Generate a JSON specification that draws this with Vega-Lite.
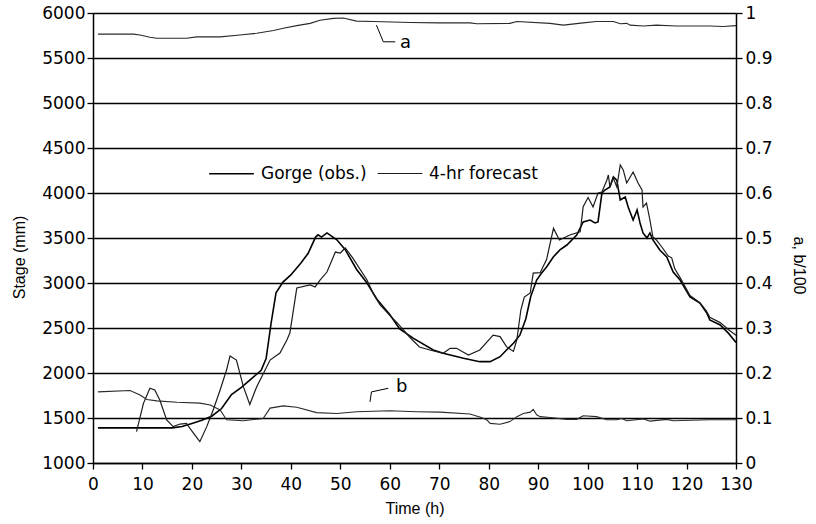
{
  "$schema": "https://vega.github.io/schema/vega-lite/v6.json",
  "width": 643,
  "height": 450,
  "autosize": {"type": "none"},
  "padding": {"left": 93, "top": 13, "right": 80, "bottom": 61},
  "background": "white",
  "config": {
    "view": {"stroke": null},
    "axis": {
      "domainColor": "black", "domainWidth": 1.5,
      "tickColor": "black", "tickWidth": 1.3, "tickSize": 6,
      "labelColor": "black", "labelFont": "DejaVu Sans", "labelFontSize": 17,
      "titleColor": "black", "titleFont": "Liberation Sans", "titleFontSize": 16, "titleFontWeight": "normal",
      "gridColor": "black", "gridWidth": 1.5, "gridOpacity": 1
    }
  },
  "datasets": {
    "stage": [
      {"series": "Gorge (obs.)", "t": 1, "v": 1390}, {"series": "Gorge (obs.)", "t": 4, "v": 1390}, {"series": "Gorge (obs.)", "t": 8, "v": 1390}, {"series": "Gorge (obs.)", "t": 12, "v": 1390}, {"series": "Gorge (obs.)", "t": 16, "v": 1390}, {"series": "Gorge (obs.)", "t": 18, "v": 1405}, {"series": "Gorge (obs.)", "t": 20, "v": 1440}, {"series": "Gorge (obs.)", "t": 22, "v": 1475}, {"series": "Gorge (obs.)", "t": 24, "v": 1520}, {"series": "Gorge (obs.)", "t": 26, "v": 1605}, {"series": "Gorge (obs.)", "t": 28, "v": 1760}, {"series": "Gorge (obs.)", "t": 30, "v": 1840}, {"series": "Gorge (obs.)", "t": 32, "v": 1935}, {"series": "Gorge (obs.)", "t": 34, "v": 2030}, {"series": "Gorge (obs.)", "t": 35, "v": 2160}, {"series": "Gorge (obs.)", "t": 36, "v": 2550}, {"series": "Gorge (obs.)", "t": 37, "v": 2890}, {"series": "Gorge (obs.)", "t": 38.4, "v": 3010}, {"series": "Gorge (obs.)", "t": 40, "v": 3090}, {"series": "Gorge (obs.)", "t": 42, "v": 3220}, {"series": "Gorge (obs.)", "t": 43.5, "v": 3330}, {"series": "Gorge (obs.)", "t": 45, "v": 3510}, {"series": "Gorge (obs.)", "t": 45.5, "v": 3535}, {"series": "Gorge (obs.)", "t": 46.2, "v": 3510}, {"series": "Gorge (obs.)", "t": 47.3, "v": 3556}, {"series": "Gorge (obs.)", "t": 49.3, "v": 3480}, {"series": "Gorge (obs.)", "t": 51, "v": 3370}, {"series": "Gorge (obs.)", "t": 53.3, "v": 3150}, {"series": "Gorge (obs.)", "t": 55.4, "v": 3000}, {"series": "Gorge (obs.)", "t": 57.4, "v": 2820}, {"series": "Gorge (obs.)", "t": 60, "v": 2650}, {"series": "Gorge (obs.)", "t": 62, "v": 2490}, {"series": "Gorge (obs.)", "t": 64.8, "v": 2385}, {"series": "Gorge (obs.)", "t": 68.8, "v": 2256}, {"series": "Gorge (obs.)", "t": 70.8, "v": 2219}, {"series": "Gorge (obs.)", "t": 74.9, "v": 2163}, {"series": "Gorge (obs.)", "t": 78.2, "v": 2126}, {"series": "Gorge (obs.)", "t": 80.3, "v": 2126}, {"series": "Gorge (obs.)", "t": 82.3, "v": 2181}, {"series": "Gorge (obs.)", "t": 83.6, "v": 2256}, {"series": "Gorge (obs.)", "t": 85, "v": 2330}, {"series": "Gorge (obs.)", "t": 86.3, "v": 2420}, {"series": "Gorge (obs.)", "t": 87.5, "v": 2600}, {"series": "Gorge (obs.)", "t": 88.5, "v": 2850}, {"series": "Gorge (obs.)", "t": 89.7, "v": 3033}, {"series": "Gorge (obs.)", "t": 90.7, "v": 3111}, {"series": "Gorge (obs.)", "t": 91.7, "v": 3178}, {"series": "Gorge (obs.)", "t": 93.1, "v": 3292}, {"series": "Gorge (obs.)", "t": 94.4, "v": 3367}, {"series": "Gorge (obs.)", "t": 95.8, "v": 3422}, {"series": "Gorge (obs.)", "t": 97.8, "v": 3533}, {"series": "Gorge (obs.)", "t": 99.1, "v": 3678}, {"series": "Gorge (obs.)", "t": 100.5, "v": 3700}, {"series": "Gorge (obs.)", "t": 101.5, "v": 3667}, {"series": "Gorge (obs.)", "t": 102.1, "v": 3678}, {"series": "Gorge (obs.)", "t": 102.9, "v": 4000}, {"series": "Gorge (obs.)", "t": 103.5, "v": 4033}, {"series": "Gorge (obs.)", "t": 104.5, "v": 4067}, {"series": "Gorge (obs.)", "t": 105.2, "v": 4178}, {"series": "Gorge (obs.)", "t": 105.9, "v": 4144}, {"series": "Gorge (obs.)", "t": 106.6, "v": 3922}, {"series": "Gorge (obs.)", "t": 107.6, "v": 3956}, {"series": "Gorge (obs.)", "t": 108.2, "v": 3844}, {"series": "Gorge (obs.)", "t": 109.2, "v": 3700}, {"series": "Gorge (obs.)", "t": 110, "v": 3811}, {"series": "Gorge (obs.)", "t": 110.6, "v": 3667}, {"series": "Gorge (obs.)", "t": 111.2, "v": 3556}, {"series": "Gorge (obs.)", "t": 112, "v": 3500}, {"series": "Gorge (obs.)", "t": 112.6, "v": 3556}, {"series": "Gorge (obs.)", "t": 113.2, "v": 3478}, {"series": "Gorge (obs.)", "t": 114.6, "v": 3367}, {"series": "Gorge (obs.)", "t": 116, "v": 3289}, {"series": "Gorge (obs.)", "t": 117.3, "v": 3122}, {"series": "Gorge (obs.)", "t": 118.7, "v": 3033}, {"series": "Gorge (obs.)", "t": 120.7, "v": 2844}, {"series": "Gorge (obs.)", "t": 122.7, "v": 2778}, {"series": "Gorge (obs.)", "t": 124.1, "v": 2667}, {"series": "Gorge (obs.)", "t": 124.7, "v": 2589}, {"series": "Gorge (obs.)", "t": 126.8, "v": 2533}, {"series": "Gorge (obs.)", "t": 128.5, "v": 2440}, {"series": "Gorge (obs.)", "t": 130, "v": 2340},
      {"series": "4-hr forecast", "t": 8.8, "v": 1348}, {"series": "4-hr forecast", "t": 10.2, "v": 1663}, {"series": "4-hr forecast", "t": 11.5, "v": 1830}, {"series": "4-hr forecast", "t": 12.5, "v": 1811}, {"series": "4-hr forecast", "t": 13.5, "v": 1700}, {"series": "4-hr forecast", "t": 14.9, "v": 1478}, {"series": "4-hr forecast", "t": 16.2, "v": 1404}, {"series": "4-hr forecast", "t": 17.6, "v": 1433}, {"series": "4-hr forecast", "t": 18.9, "v": 1441}, {"series": "4-hr forecast", "t": 19.6, "v": 1385}, {"series": "4-hr forecast", "t": 21.6, "v": 1237}, {"series": "4-hr forecast", "t": 23, "v": 1404}, {"series": "4-hr forecast", "t": 24.3, "v": 1589}, {"series": "4-hr forecast", "t": 25.7, "v": 1811}, {"series": "4-hr forecast", "t": 27, "v": 2033}, {"series": "4-hr forecast", "t": 27.7, "v": 2189}, {"series": "4-hr forecast", "t": 29, "v": 2144}, {"series": "4-hr forecast", "t": 30.4, "v": 1848}, {"series": "4-hr forecast", "t": 31.7, "v": 1650}, {"series": "4-hr forecast", "t": 33.1, "v": 1848}, {"series": "4-hr forecast", "t": 34.4, "v": 1990}, {"series": "4-hr forecast", "t": 35.8, "v": 2144}, {"series": "4-hr forecast", "t": 37.8, "v": 2222}, {"series": "4-hr forecast", "t": 39.2, "v": 2367}, {"series": "4-hr forecast", "t": 39.8, "v": 2444}, {"series": "4-hr forecast", "t": 41.2, "v": 2944}, {"series": "4-hr forecast", "t": 43.9, "v": 2978}, {"series": "4-hr forecast", "t": 44.9, "v": 2956}, {"series": "4-hr forecast", "t": 45.9, "v": 3033}, {"series": "4-hr forecast", "t": 47.3, "v": 3122}, {"series": "4-hr forecast", "t": 49, "v": 3344}, {"series": "4-hr forecast", "t": 50, "v": 3333}, {"series": "4-hr forecast", "t": 51, "v": 3389}, {"series": "4-hr forecast", "t": 52.5, "v": 3280}, {"series": "4-hr forecast", "t": 55.4, "v": 3033}, {"series": "4-hr forecast", "t": 56.6, "v": 2889}, {"series": "4-hr forecast", "t": 58, "v": 2760}, {"series": "4-hr forecast", "t": 60, "v": 2640}, {"series": "4-hr forecast", "t": 61.5, "v": 2556}, {"series": "4-hr forecast", "t": 64, "v": 2400}, {"series": "4-hr forecast", "t": 66, "v": 2289}, {"series": "4-hr forecast", "t": 68.1, "v": 2256}, {"series": "4-hr forecast", "t": 70.8, "v": 2219}, {"series": "4-hr forecast", "t": 72.2, "v": 2274}, {"series": "4-hr forecast", "t": 73.5, "v": 2274}, {"series": "4-hr forecast", "t": 75.9, "v": 2200}, {"series": "4-hr forecast", "t": 78.2, "v": 2256}, {"series": "4-hr forecast", "t": 80.9, "v": 2420}, {"series": "4-hr forecast", "t": 82.3, "v": 2404}, {"series": "4-hr forecast", "t": 83.6, "v": 2293}, {"series": "4-hr forecast", "t": 85, "v": 2240}, {"series": "4-hr forecast", "t": 85.7, "v": 2370}, {"series": "4-hr forecast", "t": 86.5, "v": 2700}, {"series": "4-hr forecast", "t": 87.2, "v": 2844}, {"series": "4-hr forecast", "t": 88.4, "v": 2890}, {"series": "4-hr forecast", "t": 89, "v": 3110}, {"series": "4-hr forecast", "t": 90.4, "v": 3115}, {"series": "4-hr forecast", "t": 91.7, "v": 3260}, {"series": "4-hr forecast", "t": 93.1, "v": 3607}, {"series": "4-hr forecast", "t": 94.3, "v": 3478}, {"series": "4-hr forecast", "t": 96.4, "v": 3533}, {"series": "4-hr forecast", "t": 98.5, "v": 3570}, {"series": "4-hr forecast", "t": 99.1, "v": 3848}, {"series": "4-hr forecast", "t": 100.1, "v": 3950}, {"series": "4-hr forecast", "t": 101.1, "v": 3844}, {"series": "4-hr forecast", "t": 102.1, "v": 4000}, {"series": "4-hr forecast", "t": 102.9, "v": 4011}, {"series": "4-hr forecast", "t": 103.9, "v": 4144}, {"series": "4-hr forecast", "t": 104.2, "v": 4200}, {"series": "4-hr forecast", "t": 104.5, "v": 4067}, {"series": "4-hr forecast", "t": 105.2, "v": 4167}, {"series": "4-hr forecast", "t": 105.9, "v": 4067}, {"series": "4-hr forecast", "t": 106.6, "v": 4311}, {"series": "4-hr forecast", "t": 107.2, "v": 4256}, {"series": "4-hr forecast", "t": 107.9, "v": 4111}, {"series": "4-hr forecast", "t": 109.2, "v": 4233}, {"series": "4-hr forecast", "t": 110.2, "v": 4111}, {"series": "4-hr forecast", "t": 111, "v": 4033}, {"series": "4-hr forecast", "t": 111.2, "v": 3844}, {"series": "4-hr forecast", "t": 111.9, "v": 3889}, {"series": "4-hr forecast", "t": 112.6, "v": 3700}, {"series": "4-hr forecast", "t": 113.2, "v": 3511}, {"series": "4-hr forecast", "t": 113.9, "v": 3478}, {"series": "4-hr forecast", "t": 115, "v": 3400}, {"series": "4-hr forecast", "t": 116.3, "v": 3300}, {"series": "4-hr forecast", "t": 117, "v": 3280}, {"series": "4-hr forecast", "t": 117.6, "v": 3160}, {"series": "4-hr forecast", "t": 118.7, "v": 3060}, {"series": "4-hr forecast", "t": 120.7, "v": 2860}, {"series": "4-hr forecast", "t": 122.7, "v": 2780}, {"series": "4-hr forecast", "t": 124, "v": 2690}, {"series": "4-hr forecast", "t": 124.7, "v": 2620}, {"series": "4-hr forecast", "t": 126.8, "v": 2560}, {"series": "4-hr forecast", "t": 128.5, "v": 2480}, {"series": "4-hr forecast", "t": 130, "v": 2420}
    ],
    "params": [
      {"p": "a", "t": 1, "v": 0.953}, {"p": "a", "t": 8.2, "v": 0.953}, {"p": "a", "t": 9.5, "v": 0.951}, {"p": "a", "t": 11.5, "v": 0.946}, {"p": "a", "t": 12.9, "v": 0.944}, {"p": "a", "t": 18.9, "v": 0.944}, {"p": "a", "t": 21, "v": 0.947}, {"p": "a", "t": 25.7, "v": 0.947}, {"p": "a", "t": 29.7, "v": 0.951}, {"p": "a", "t": 33.1, "v": 0.955}, {"p": "a", "t": 36.5, "v": 0.961}, {"p": "a", "t": 38.5, "v": 0.966}, {"p": "a", "t": 41.2, "v": 0.972}, {"p": "a", "t": 43.9, "v": 0.977}, {"p": "a", "t": 45.9, "v": 0.984}, {"p": "a", "t": 48.6, "v": 0.988}, {"p": "a", "t": 50.6, "v": 0.989}, {"p": "a", "t": 53.3, "v": 0.982}, {"p": "a", "t": 56.7, "v": 0.981}, {"p": "a", "t": 64.1, "v": 0.979}, {"p": "a", "t": 70, "v": 0.978}, {"p": "a", "t": 76.2, "v": 0.978}, {"p": "a", "t": 77.6, "v": 0.976}, {"p": "a", "t": 84.3, "v": 0.977}, {"p": "a", "t": 85.7, "v": 0.981}, {"p": "a", "t": 92.4, "v": 0.977}, {"p": "a", "t": 95.1, "v": 0.973}, {"p": "a", "t": 99.1, "v": 0.978}, {"p": "a", "t": 101.8, "v": 0.981}, {"p": "a", "t": 105.2, "v": 0.981}, {"p": "a", "t": 106.6, "v": 0.976}, {"p": "a", "t": 107.9, "v": 0.977}, {"p": "a", "t": 108.6, "v": 0.973}, {"p": "a", "t": 111.3, "v": 0.971}, {"p": "a", "t": 113.9, "v": 0.973}, {"p": "a", "t": 117.9, "v": 0.971}, {"p": "a", "t": 124.7, "v": 0.971}, {"p": "a", "t": 127.4, "v": 0.970}, {"p": "a", "t": 130, "v": 0.972},
      {"p": "b", "t": 1, "v": 0.158}, {"p": "b", "t": 7.5, "v": 0.161}, {"p": "b", "t": 9.5, "v": 0.151}, {"p": "b", "t": 10.9, "v": 0.141}, {"p": "b", "t": 12.9, "v": 0.138}, {"p": "b", "t": 17, "v": 0.135}, {"p": "b", "t": 21.6, "v": 0.133}, {"p": "b", "t": 23.7, "v": 0.129}, {"p": "b", "t": 25.7, "v": 0.118}, {"p": "b", "t": 27, "v": 0.096}, {"p": "b", "t": 30.4, "v": 0.094}, {"p": "b", "t": 34.4, "v": 0.099}, {"p": "b", "t": 35.8, "v": 0.122}, {"p": "b", "t": 38.5, "v": 0.127}, {"p": "b", "t": 41.2, "v": 0.124}, {"p": "b", "t": 45.2, "v": 0.112}, {"p": "b", "t": 49.3, "v": 0.110}, {"p": "b", "t": 53.3, "v": 0.114}, {"p": "b", "t": 60, "v": 0.116}, {"p": "b", "t": 65.4, "v": 0.114}, {"p": "b", "t": 70.2, "v": 0.113}, {"p": "b", "t": 76.2, "v": 0.109}, {"p": "b", "t": 78.2, "v": 0.102}, {"p": "b", "t": 79.6, "v": 0.096}, {"p": "b", "t": 80.3, "v": 0.088}, {"p": "b", "t": 82.3, "v": 0.086}, {"p": "b", "t": 84.3, "v": 0.092}, {"p": "b", "t": 85.7, "v": 0.103}, {"p": "b", "t": 87, "v": 0.110}, {"p": "b", "t": 88.4, "v": 0.113}, {"p": "b", "t": 89, "v": 0.119}, {"p": "b", "t": 89.7, "v": 0.107}, {"p": "b", "t": 90.4, "v": 0.103}, {"p": "b", "t": 92.4, "v": 0.101}, {"p": "b", "t": 95.8, "v": 0.097}, {"p": "b", "t": 97.8, "v": 0.097}, {"p": "b", "t": 99.1, "v": 0.105}, {"p": "b", "t": 101.8, "v": 0.103}, {"p": "b", "t": 103.9, "v": 0.096}, {"p": "b", "t": 105.9, "v": 0.096}, {"p": "b", "t": 106.9, "v": 0.099}, {"p": "b", "t": 107.9, "v": 0.094}, {"p": "b", "t": 111.3, "v": 0.098}, {"p": "b", "t": 112.6, "v": 0.093}, {"p": "b", "t": 116, "v": 0.097}, {"p": "b", "t": 117.3, "v": 0.094}, {"p": "b", "t": 124.7, "v": 0.096}, {"p": "b", "t": 130, "v": 0.096}
    ],
    "leaders": [
      {"g": "a", "o": 1, "t": 57.3, "v": 0.973}, {"g": "a", "o": 2, "t": 58.7, "v": 0.936}, {"g": "a", "o": 3, "t": 61.1, "v": 0.936},
      {"g": "b", "o": 1, "t": 56.0, "v": 0.136}, {"g": "b", "o": 2, "t": 56.3, "v": 0.158}, {"g": "b", "o": 3, "t": 59.7, "v": 0.166}
    ],
    "labels": [
      {"label": "a", "t": 63.2, "v": 0.934},
      {"label": "b", "t": 62.4, "v": 0.168}
    ]
  },
  "layer": [
    {
      "data": {"name": "stage"},
      "mark": {"type": "line"},
      "encoding": {
        "x": {"field": "t", "type": "quantitative", "scale": {"domain": [0, 130], "nice": false, "zero": false},
              "axis": {"values": [0, 10, 20, 30, 40, 50, 60, 70, 80, 90, 100, 110, 120, 130], "title": "Time (h)", "grid": false, "domain": true, "ticks": true, "labelPadding": 7, "titlePadding": 8, "labelFlush": false}},
        "y": {"field": "v", "type": "quantitative", "scale": {"domain": [1000, 6000], "nice": false, "zero": false},
              "axis": {"orient": "left", "values": [1000, 1500, 2000, 2500, 3000, 3500, 4000, 4500, 5000, 5500, 6000], "format": "d", "title": "Stage (mm)", "grid": true, "domain": true, "ticks": true, "labelPadding": 2, "titlePadding": 14, "titleY": 244, "labelFlush": false}},
        "color": {"field": "series", "type": "ordinal", "scale": {"domain": ["Gorge (obs.)", "4-hr forecast"], "range": ["#000000", "#1c1c1c"]},
                  "legend": {"title": null, "orient": "none", "legendX": 115, "legendY": 137, "direction": "horizontal", "symbolType": "stroke", "symbolSize": 2000, "labelFont": "DejaVu Sans", "labelFontSize": 17, "labelColor": "black", "columnPadding": 8, "labelOffset": 6}},
        "strokeWidth": {"field": "series", "type": "ordinal", "scale": {"domain": ["Gorge (obs.)", "4-hr forecast"], "range": [1.6, 1.2]},
                  "legend": {"title": null, "orient": "none", "legendX": 115, "legendY": 137, "direction": "horizontal", "symbolType": "stroke", "symbolSize": 2000, "labelFont": "DejaVu Sans", "labelFontSize": 17, "labelColor": "black", "columnPadding": 8, "labelOffset": 6}}
      }
    },
    {
      "layer": [
        {
          "data": {"name": "params"},
          "mark": {"type": "line", "color": "#2a2a2a", "strokeWidth": 1.1},
          "encoding": {
            "x": {"field": "t", "type": "quantitative"},
            "y": {"field": "v", "type": "quantitative", "scale": {"domain": [0, 1], "nice": false},
                  "axis": {"orient": "right", "values": [0, 0.1, 0.2, 0.3, 0.4, 0.5, 0.6, 0.7, 0.8, 0.9, 1], "format": "~g", "title": "a, b/100", "grid": false, "domain": true, "ticks": true, "labelPadding": 3, "titlePadding": 18, "titleY": 252, "labelFlush": false}},
            "detail": {"field": "p", "type": "nominal"}
          }
        },
        {
          "data": {"name": "leaders"},
          "mark": {"type": "line", "color": "#000000", "strokeWidth": 1},
          "encoding": {
            "x": {"field": "t", "type": "quantitative"},
            "y": {"field": "v", "type": "quantitative"},
            "detail": {"field": "g", "type": "nominal"},
            "order": {"field": "o", "type": "quantitative"}
          }
        },
        {
          "data": {"name": "labels"},
          "mark": {"type": "text", "font": "DejaVu Sans", "fontSize": 18, "color": "black", "align": "center", "baseline": "middle"},
          "encoding": {
            "x": {"field": "t", "type": "quantitative"},
            "y": {"field": "v", "type": "quantitative"},
            "text": {"field": "label", "type": "nominal"}
          }
        }
      ]
    }
  ],
  "resolve": {"scale": {"y": "independent"}}
}
